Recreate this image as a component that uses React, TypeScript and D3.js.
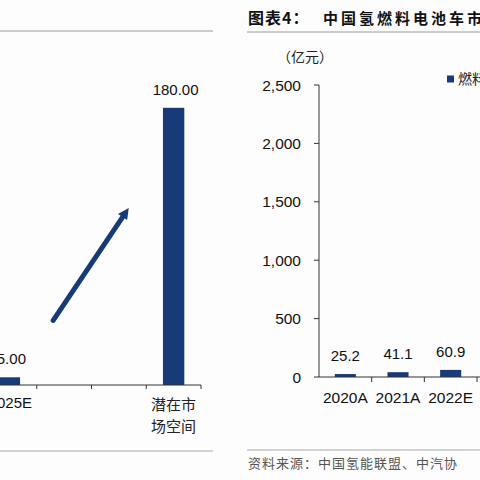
import { scaleBand, scaleLinear } from "d3";

// Left panel: potential market space
const leftCategories = ["2025E", "", "", "潜在市场空间"];
const leftValues: (number | null)[] = [5, null, null, 180];

// Right panel: China hydrogen fuel-cell vehicle market size (亿元)
const rightCategories = ["2020A", "2021A", "2022E"];
const rightValues = [25.2, 41.1, 60.9];
const rightTicks = [0, 500, 1000, 1500, 2000, 2500];

const NAVY = "#173a78";
const LATIN = "'Liberation Sans', Arial, sans-serif";
const CJK = "'Noto Sans CJK SC', 'Noto Sans', sans-serif";

export default function App() {
  // Left scales
  const xL = scaleBand<number>()
    .domain(leftCategories.map((_, i) => i))
    .range([-18, 201])
    .padding(0);
  const yL = scaleLinear().domain([0, 200]).range([385, 77]);
  const barWL = xL.bandwidth() * 0.39;

  // Right scales
  const xR = scaleBand<string>().domain(rightCategories).range([319, 477]).padding(0);
  const yR = scaleLinear().domain([0, 2500]).range([377, 85]);
  const barWR = xR.bandwidth() * 0.4;

  // Arrow between the two left bars
  const ax1 = xL(1)! + xL.bandwidth() * 0.3;
  const ay1 = yL(42);
  const ax2 = xL(2)! + xL.bandwidth() * 0.68;
  const ay2 = yL(115);
  const ang = Math.atan2(ay2 - ay1, ax2 - ax1);
  const head = 11;
  const hx = ax2 - Math.cos(ang) * head;
  const hy = ay2 - Math.sin(ang) * head;
  const px = Math.cos(ang + Math.PI / 2) * 5.5;
  const py = Math.sin(ang + Math.PI / 2) * 5.5;

  return (
    <div style={{ width: 480, height: 480, background: "#fff" }}>
      <style>{"body{margin:0}"}</style>
      <svg width={480} height={480} style={{ display: "block" }}>
        <rect width={480} height={480} fill="#fdfdfd" />

        {/* ---------- Left panel ---------- */}
        <line x1={0} x2={213} y1={31} y2={31} stroke="#9a9a9a" strokeWidth={1} />
        <line x1={0} x2={213} y1={451} y2={451} stroke="#a8a8a8" strokeWidth={1} />

        {leftValues.map((v, i) =>
          v == null ? null : (
            <g key={i}>
              <rect
                x={xL(i)! + xL.bandwidth() / 2 - barWL / 2}
                y={yL(v)}
                width={barWL}
                height={yL(0) - yL(v)}
                fill={NAVY}
              />
              <text
                x={xL(i)! + xL.bandwidth() / 2 + 2}
                y={yL(v) - 13}
                textAnchor="middle"
                fontFamily={LATIN}
                fontSize={15}
                fill="#111"
              >
                {v.toFixed(2)}
              </text>
            </g>
          )
        )}

        <line x1={0} x2={xL.range()[1]} y1={yL(0)} y2={yL(0)} stroke="#333" strokeWidth={1} />
        {leftCategories.map((_, i) => (
          <line
            key={i}
            x1={xL(i)! + xL.bandwidth()}
            x2={xL(i)! + xL.bandwidth()}
            y1={yL(0)}
            y2={yL(0) + 4}
            stroke="#333"
          />
        ))}
        {leftCategories.map((c, i) => {
          const cx = xL(i)! + xL.bandwidth() / 2;
          if (!c) return null;
          if (c.length > 5) {
            return (
              <text key={i} x={cx} textAnchor="middle" fontFamily={CJK} fontSize={15} fill="#222">
                <tspan x={cx} y={410}>{c.slice(0, 3)}</tspan>
                <tspan x={cx} y={432}>{c.slice(3)}</tspan>
              </text>
            );
          }
          return (
            <text key={i} x={cx + 1} y={408} textAnchor="middle" fontFamily={LATIN} fontSize={15} fill="#111">
              {c}
            </text>
          );
        })}

        {/* arrow */}
        <line x1={ax1} y1={ay1} x2={hx} y2={hy} stroke={NAVY} strokeWidth={5} strokeLinecap="round" />
        <polygon
          points={`${ax2},${ay2} ${hx + px},${hy + py} ${hx - px},${hy - py}`}
          fill={NAVY}
        />

        {/* ---------- Right panel ---------- */}
        <text x={248} y={24} fontFamily={CJK} fontSize={16} fontWeight={700} fill="#111" letterSpacing={1}>
          图表4：
        </text>
        <text x={323} y={24} fontFamily={CJK} fontSize={15} fontWeight={700} fill="#111" letterSpacing={3}>
          中国氢燃料电池车市场规模
        </text>
        <line x1={247} x2={480} y1={32} y2={32} stroke="#9a9a9a" strokeWidth={1} />

        <text x={277} y={62} fontFamily={CJK} fontSize={14} fill="#222">
          （亿元）
        </text>

        {/* legend */}
        <rect x={447} y={75.5} width={7} height={7} fill={NAVY} />
        <text x={458} y={84} fontFamily={CJK} fontSize={14} fill="#222">
          燃料电池车市场规模
        </text>

        {/* y axis */}
        <line x1={319} x2={319} y1={yR(2500)} y2={yR(0)} stroke="#333" />
        {rightTicks.map((t) => (
          <g key={t}>
            <line x1={314} x2={319} y1={yR(t)} y2={yR(t)} stroke="#333" />
            <text
              x={301}
              y={yR(t) + 5.5}
              textAnchor="end"
              fontFamily={LATIN}
              fontSize={15.5}
              fill="#111"
            >
              {t.toLocaleString("en-US")}
            </text>
          </g>
        ))}

        {/* bars */}
        {rightCategories.map((c, i) => {
          const v = rightValues[i];
          const cx = xR(c)! + xR.bandwidth() / 2;
          return (
            <g key={c}>
              <rect x={cx - barWR / 2} y={yR(v)} width={barWR} height={yR(0) - yR(v)} fill={NAVY} />
              <text x={cx} y={yR(v) - 13} textAnchor="middle" fontFamily={LATIN} fontSize={15} fill="#111">
                {v.toFixed(1)}
              </text>
              <text x={cx} y={402.5} textAnchor="middle" fontFamily={LATIN} fontSize={15.5} fill="#111">
                {c}
              </text>
            </g>
          );
        })}

        {/* x axis */}
        <line x1={319} x2={480} y1={yR(0)} y2={yR(0)} stroke="#333" />
        {rightCategories.map((c) => (
          <line
            key={c}
            x1={xR(c)! + xR.bandwidth()}
            x2={xR(c)! + xR.bandwidth()}
            y1={yR(0)}
            y2={yR(0) + 5}
            stroke="#333"
          />
        ))}

        {/* source */}
        <line x1={247} x2={480} y1={450} y2={450} stroke="#a8a8a8" strokeWidth={1} />
        <text x={248} y={468} fontFamily={CJK} fontSize={13} fill="#555" letterSpacing={1}>
          资料来源：中国氢能联盟、中汽协
        </text>
      </svg>
    </div>
  );
}
